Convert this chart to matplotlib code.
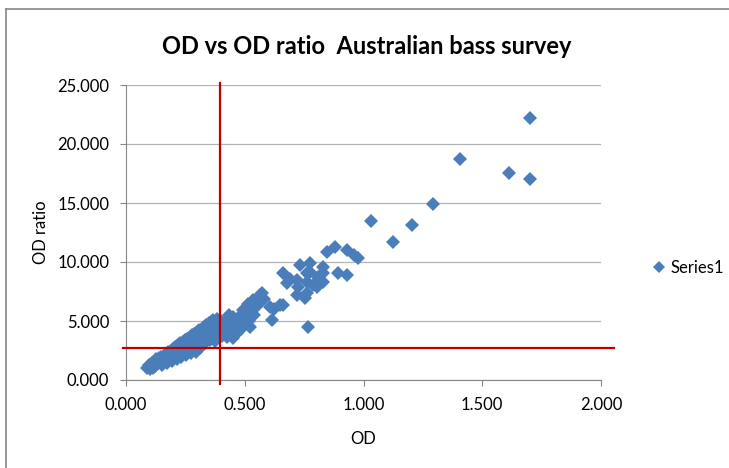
import matplotlib
matplotlib.use('Agg')
import matplotlib.pyplot as plt
from matplotlib.lines import Line2D
from matplotlib.ticker import FormatStrFormatter

plt.rcParams['font.family'] = ['Lato', 'DejaVu Sans']

# OD values
od = [0.090, 0.095, 0.100, 0.103, 0.108, 0.112, 0.118, 0.122, 0.128, 0.132,
      0.138, 0.142, 0.148, 0.152, 0.158, 0.162, 0.168, 0.172, 0.178, 0.183,
      0.188, 0.193, 0.198, 0.203, 0.208, 0.213, 0.218, 0.223, 0.228, 0.233,
      0.238, 0.243, 0.248, 0.253, 0.258, 0.263, 0.268, 0.273, 0.278, 0.283,
      0.288, 0.293, 0.298, 0.303, 0.308, 0.313, 0.318, 0.323, 0.328, 0.333,
      0.338, 0.343, 0.348, 0.353, 0.358, 0.363, 0.368,
      0.373, 0.378, 0.383, 0.388, 0.393, 0.398, 0.405, 0.410, 0.415, 0.424,
      0.428, 0.433, 0.440, 0.446, 0.452, 0.452, 0.466, 0.470, 0.478, 0.485,
      0.492, 0.498, 0.505, 0.512, 0.518, 0.522, 0.528, 0.535, 0.540, 0.550,
      0.560, 0.564, 0.571, 0.580, 0.606, 0.613, 0.625, 0.648, 0.662, 0.662,
      0.677, 0.690, 0.719, 0.719, 0.726, 0.733, 0.754, 0.761, 0.761, 0.761,
      0.768, 0.775, 0.775, 0.789, 0.803, 0.810, 0.831, 0.831, 0.831, 0.845,
      0.880, 0.894, 0.929, 0.929, 0.960, 0.978, 1.032, 1.126, 1.206, 1.294,
      1.406, 1.613, 1.701, 1.701]

# OD ratio for each point
ratio = [1.05, 1.30, 0.95, 1.20, 1.45, 1.05, 1.55, 1.20, 1.75, 1.35,
         1.85, 1.50, 1.95, 1.30, 2.05, 1.65, 2.20, 1.45, 2.35, 1.90,
         2.50, 1.60, 2.60, 2.10, 2.80, 1.75, 2.95, 2.35, 3.10, 1.95,
         3.25, 2.60, 3.40, 2.15, 3.50, 2.85, 3.65, 2.30, 3.80, 3.05,
         3.90, 2.35, 4.05, 3.30, 4.20, 2.70, 4.35, 3.55, 4.50, 3.10,
         4.65, 3.80, 4.80, 3.40, 4.95, 4.10, 5.10,
         3.30, 4.60, 5.20, 3.90, 4.40, 5.00, 3.70, 4.30, 4.90, 3.67,
         4.80, 5.50, 4.20, 5.10, 5.36, 3.56, 3.95, 4.60, 5.40, 4.30,
         5.93, 4.90, 5.60, 6.40, 5.00, 4.52, 6.00, 6.80, 5.50, 6.30,
         6.50, 7.20, 7.35, 6.90, 6.21, 5.08, 6.00, 6.36, 6.36, 9.04,
         8.19, 8.60, 8.47, 7.20, 7.90, 9.75, 6.92, 7.35, 8.33, 9.04,
         4.52, 9.89, 9.18, 8.05, 7.90, 8.70, 8.33, 9.04, 9.60, 10.87,
         11.30, 9.04, 8.90, 11.00, 10.60, 10.30, 13.47, 11.72, 13.10, 14.92,
         18.73, 17.57, 17.03, 22.17]

# cut-off lines
od_cutoff = 0.395
ratio_cutoff = 2.74

x_ticks = [0.0, 0.5, 1.0, 1.5, 2.0]
y_ticks = [0, 5, 10, 15, 20, 25]

blue = '#4A7EBB'
red = '#C00000'
grey = '#868686'

fig = plt.figure(figsize=(7.29, 4.68), dpi=100)
ax = fig.add_axes([126/729, 1 - 380/468, 475/729, 295/468])

# chart area border (cropped in the reference)
fig.add_artist(Line2D([6/729, 6/729], [0, 1 - 9/468], color=grey, lw=1.2))
fig.add_artist(Line2D([6/729, 1], [1 - 9/468, 1 - 9/468], color=grey, lw=1.2))

ax.plot(od, ratio, linestyle='none', marker='D', ms=7.2, color=blue,
        mew=0, label='Series1', zorder=3)

# red cut-off lines run a little past the plot area
ax.plot([-0.013, 2.055], [ratio_cutoff, ratio_cutoff], color=red, lw=1.6,
        clip_on=False, zorder=4)
ax.plot([od_cutoff, od_cutoff], [-0.34, 25.14], color=red, lw=1.6,
        clip_on=False, zorder=4)

ax.set_xlim(0, 2)
ax.set_ylim(0, 25)
ax.set_xticks(x_ticks)
ax.set_yticks(y_ticks)
ax.xaxis.set_major_formatter(FormatStrFormatter('%.3f'))
ax.yaxis.set_major_formatter(FormatStrFormatter('%.3f'))
ax.grid(axis='y', color='#B3B3B3', lw=0.9)
ax.set_axisbelow(True)
for s in ['top', 'right']:
    ax.spines[s].set_visible(False)
for s in ['left', 'bottom']:
    ax.spines[s].set_color(grey)
ax.tick_params(colors=grey, labelcolor='black', labelsize=12, length=4)
ax.tick_params(axis='x', pad=8)
ax.tick_params(axis='y', pad=8)

ax.set_xlabel('OD', fontsize=12, labelpad=13)
ax.set_ylabel('OD ratio', fontsize=12, labelpad=6)
fig.text(367/729, 1 - 47/468, 'OD vs OD ratio  Australian bass survey',
         ha='center', va='center', fontsize=17, fontweight='bold')

fig.legend(loc='center left', bbox_to_anchor=(637/729, 1 - 268/468),
           frameon=False, fontsize=12, handlelength=0.8, handletextpad=0.3,
           markerscale=0.85)

fig.savefig('out.png', dpi=100)
